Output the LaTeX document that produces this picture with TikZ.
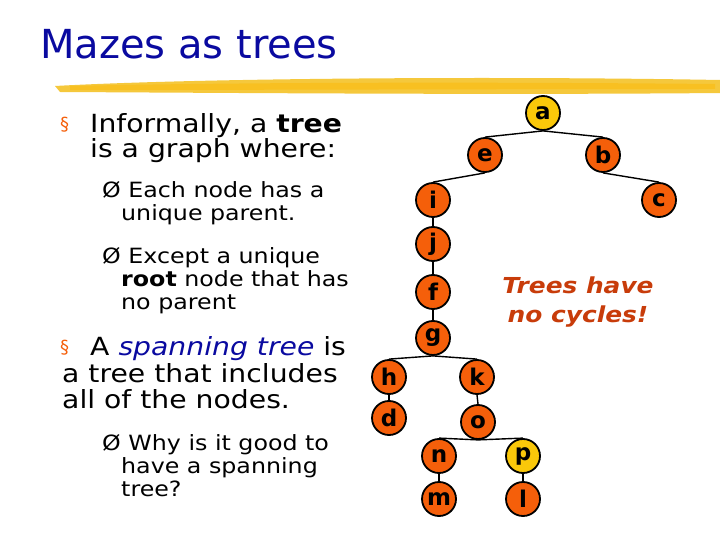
\documentclass[tikz,border=0pt]{standalone}
\usepackage{fontspec}
\setmainfont{DejaVu Sans}[FakeStretch=1.13]
\newfontfamily\titlefont{DejaVu Sans}[FakeStretch=1.0]
\newfontfamily\plainfont{DejaVu Sans}
\definecolor{tblue}{RGB}{10,10,160}
\definecolor{norange}{RGB}{245,95,10}
\definecolor{nyellow}{RGB}{250,200,10}
\definecolor{torange}{RGB}{200,60,10}
\definecolor{brush}{RGB}{245,200,60}
\begin{document}
\begin{tikzpicture}[x=1pt,y=-1pt,
  tn/.style={circle,draw=black,line width=1.8pt,fill=norange,minimum size=34pt,inner sep=0pt,font=\plainfont\fontsize{23}{23}\selectfont\bfseries},
  yn/.style={tn,fill=nyellow},
  big/.style={anchor=base west,inner sep=0pt,font=\fontsize{25}{25}\selectfont},
  small/.style={anchor=base west,inner sep=0pt,font=\fontsize{21}{21}\selectfont},
  bul/.style={anchor=base west,inner sep=0pt,text=norange,font=\plainfont\fontsize{18}{18}\selectfont},
  edge/.style={line width=1.4pt}]
\useasboundingbox (0,0) rectangle (720,540);
\fill[white] (0,0) rectangle (720,540);
% title
\node[anchor=base west,inner sep=0pt,text=tblue,font=\titlefont\fontsize{40}{40}\selectfont] (title) at (40,59) {Mazes as trees};
% brush
\fill[brush] (55,86) .. controls (200,78) and (500,76) .. (720,80) -- (720,93) .. controls (500,95) and (250,93) .. (60,92) -- cycle;
\fill[nyellow!80!orange,opacity=0.5] (70,86) .. controls (250,82) and (500,82) .. (715,84) -- (715,89) .. controls (500,89) and (250,90) .. (70,90) -- cycle;
% text
\node[bul] (b1) at (60,131) {§};
\node[big] (t1) at (90,133) {Informally, a \textbf{tree}};
\node[big] (t2) at (90,158) {is a graph where:};
\node[small] (s1) at (102,198) {Ø Each node has a};
\node[small] (s1b) at (121,221) {unique parent.};
\node[small] (s2) at (102,263) {Ø Except a unique};
\node[small] (s2b) at (121,286) {\textbf{root} node that has};
\node[small] (s2c) at (121,309) {no parent};
\node[bul] (b2) at (60,353) {§};
\node[big] (t3) at (90,355) {A \textit{\textcolor{tblue}{spanning tree}} is};
\node[big] (t4) at (62,382) {a tree that includes};
\node[big] (t5) at (62,408) {all of the nodes.};
\node[small] (s3) at (102,450) {Ø Why is it good to};
\node[small] (s3b) at (121,473) {have a spanning};
\node[small] (s3c) at (121,496) {tree?};
% tree
\node[yn] (a) at (543,113) {a};
\node[tn] (e) at (485,155) {e};
\node[tn] (b) at (603,155) {b};
\node[tn] (c) at (659,200) {c};
\node[tn] (i) at (433,200) {i};
\node[tn] (j) at (433,244) {j};
\node[tn] (f) at (433,292) {f};
\node[tn] (g) at (433,338) {g};
\node[tn] (h) at (389,377) {h};
\node[tn] (k) at (477,377) {k};
\node[tn] (d) at (389,418) {d};
\node[tn] (o) at (478,422) {o};
\node[tn] (n) at (439,456) {n};
\node[yn] (p) at (523,456) {p};
\node[tn] (m) at (439,499) {m};
\node[tn] (l) at (523,499) {l};
\foreach \u/\v in {a/e,a/b,b/c,e/i,i/j,j/f,f/g,g/h,g/k,h/d,k/o,o/n,o/p,n/m,p/l}
  \draw[edge] (\u.south) -- (\v.north);
\node[inner sep=0pt,text=torange,align=center,font=\fontsize{22}{29}\selectfont\bfseries\itshape] (note) at (578,302) {Trees have\\no cycles!};
\end{tikzpicture}
\end{document}
